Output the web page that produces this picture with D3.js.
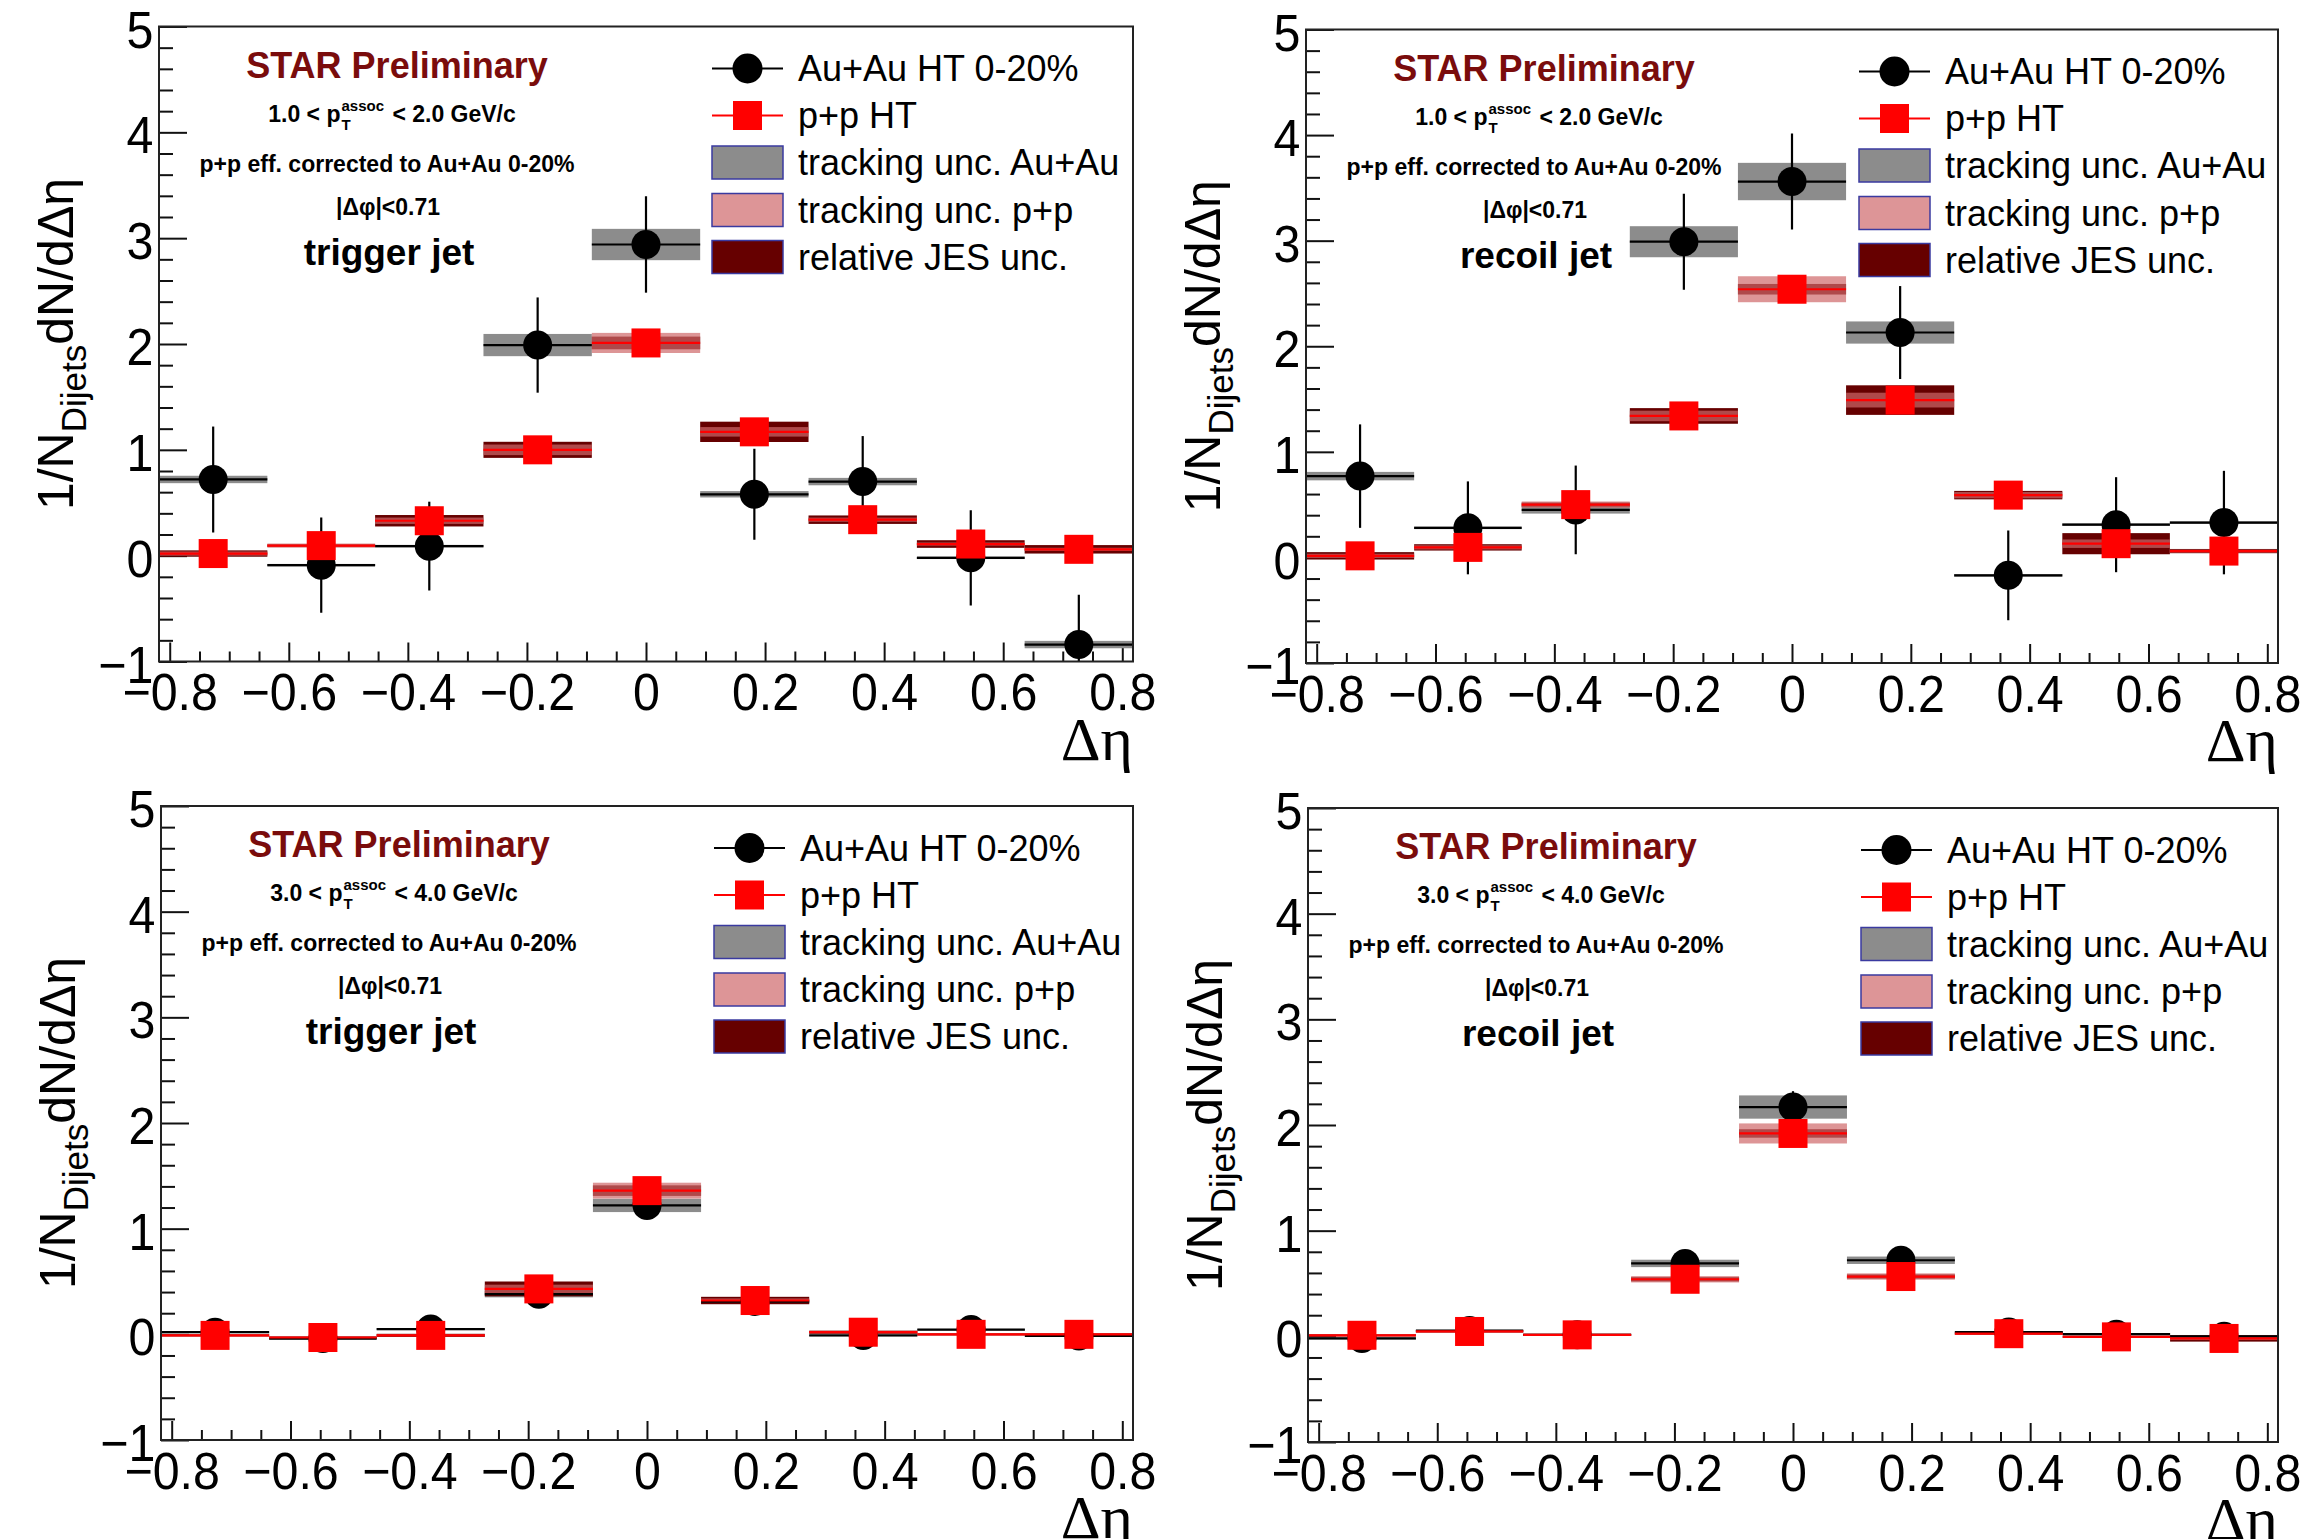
<!DOCTYPE html>
<html>
<head>
<meta charset="utf-8">
<script src="https://cdn.jsdelivr.net/npm/d3@7"></script>
<style>
  body { margin: 0; background: #fff; }
  svg { display: block; font-family: "Liberation Sans", Arial, Helvetica, sans-serif; }
</style>
</head>
<body>
<div id="container"></div>
<script>

/* DATA */
const binEdges = [-0.818, -0.636, -0.455, -0.273, -0.091, 0.091, 0.273, 0.455, 0.636, 0.818];
const xTicks = [-0.8, -0.6, -0.4, -0.2, 0, 0.2, 0.4, 0.6, 0.8];
const yTicks = [-1, 0, 1, 2, 3, 4, 5];
const legendLabels = ["Au+Au HT 0-20%", "p+p HT", "tracking unc. Au+Au", "tracking unc. p+p", "relative JES unc."];

// trigger jet, 1.0 < pT assoc < 2.0
const trigLowAuAu     = [0.72, -0.09, 0.09, 1.99, 2.94, 0.58, 0.70, -0.02, -0.84];
const trigLowAuAuStat = [0.50, 0.45, 0.42, 0.45, 0.455, 0.43, 0.43, 0.45, 0.47];
const trigLowAuAuTrk  = [0.035, 0.012, 0.012, 0.105, 0.148, 0.03, 0.035, 0.012, 0.035];
const trigLowPP       = [0.02, 0.095, 0.33, 1.00, 2.01, 1.17, 0.34, 0.11, 0.06];
const trigLowPPTrk    = [0.02, 0.02, 0.03, 0.05, 0.095, 0.045, 0.02, 0.015, 0.015];
const trigLowPPJes    = [0.03, 0.012, 0.054, 0.076, 0.06, 0.096, 0.04, 0.036, 0.04];

// recoil jet, 1.0 < pT assoc < 2.0
const recLowAuAu     = [0.77, 0.28, 0.45, 2.99, 3.56, 2.13, -0.17, 0.31, 0.33];
const recLowAuAuStat = [0.49, 0.44, 0.42, 0.455, 0.455, 0.44, 0.425, 0.45, 0.49];
const recLowAuAuTrk  = [0.04, 0.012, 0.035, 0.147, 0.177, 0.105, 0.012, 0.012, 0.012];
const recLowPP       = [0.015, 0.095, 0.50, 1.34, 2.54, 1.49, 0.59, 0.13, 0.06];
const recLowPPTrk    = [0.02, 0.02, 0.03, 0.05, 0.123, 0.07, 0.03, 0.04, 0.015];
const recLowPPJes    = [0.035, 0.03, 0.02, 0.074, 0.05, 0.14, 0.04, 0.10, 0.02];

// trigger jet, 3.0 < pT assoc < 4.0
const trigHighAuAu     = [0.02, -0.04, 0.05, 0.38, 1.22, 0.31, -0.01, 0.045, -0.015];
const trigHighAuAuStat = [0.06, 0.06, 0.06, 0.08, 0.10, 0.08, 0.06, 0.06, 0.06];
const trigHighAuAuTrk  = [0.006, 0.006, 0.01, 0.03, 0.063, 0.02, 0.006, 0.006, 0.006];
const trigHighPP       = [-0.01, -0.03, -0.01, 0.43, 1.36, 0.32, 0.02, 0.0, 0.0];
const trigHighPPTrk    = [0.01, 0.01, 0.01, 0.04, 0.075, 0.02, 0.01, 0.01, 0.01];
const trigHighPPJes    = [0.01, 0.01, 0.015, 0.07, 0.05, 0.035, 0.015, 0.01, 0.01];

// recoil jet, 3.0 < pT assoc < 4.0
const recHighAuAu     = [-0.02, 0.055, 0.015, 0.69, 2.17, 0.72, 0.04, 0.02, 0.0];
const recHighAuAuStat = [0.06, 0.06, 0.06, 0.08, 0.15, 0.08, 0.06, 0.06, 0.06];
const recHighAuAuTrk  = [0.01, 0.006, 0.006, 0.035, 0.11, 0.035, 0.01, 0.01, 0.01];
const recHighPP       = [0.01, 0.046, 0.014, 0.54, 1.92, 0.566, 0.025, -0.005, -0.02];
const recHighPPTrk    = [0.01, 0.01, 0.01, 0.03, 0.095, 0.03, 0.01, 0.01, 0.015];
const recHighPPJes    = [0.01, 0.01, 0.01, 0.02, 0.04, 0.02, 0.01, 0.01, 0.03];

/* CONSTANTS */
const width = 2301, height = 1539;
const gray = "#8c8c8c", pinkFill = "rgb(206,104,106)", jesColor = "#660000";
const fontFam = '"Liberation Sans", Arial, Helvetica, sans-serif';

const panels = [
  { frame: {L: 159, T: 26.5, R: 1133, B: 661.5}, lo: "1.0", hi: "2.0", jet: "trigger jet",
    auau: trigLowAuAu, stat: trigLowAuAuStat, trk: trigLowAuAuTrk, pp: trigLowPP, ppTrk: trigLowPPTrk, jes: trigLowPPJes },
  { frame: {L: 1306, T: 29.5, R: 2278, B: 663}, lo: "1.0", hi: "2.0", jet: "recoil jet",
    auau: recLowAuAu, stat: recLowAuAuStat, trk: recLowAuAuTrk, pp: recLowPP, ppTrk: recLowPPTrk, jes: recLowPPJes },
  { frame: {L: 161, T: 806, R: 1133, B: 1440}, lo: "3.0", hi: "4.0", jet: "trigger jet",
    auau: trigHighAuAu, stat: trigHighAuAuStat, trk: trigHighAuAuTrk, pp: trigHighPP, ppTrk: trigHighPPTrk, jes: trigHighPPJes },
  { frame: {L: 1308, T: 808, R: 2278, B: 1442}, lo: "3.0", hi: "4.0", jet: "recoil jet",
    auau: recHighAuAu, stat: recHighAuAuStat, trk: recHighAuAuTrk, pp: recHighPP, ppTrk: recHighPPTrk, jes: recHighPPJes }
];

const svg = d3.select("#container")
  .append("svg")
  .attr("width", width)
  .attr("height", height);

svg.append("rect").attr("width", width).attr("height", height).attr("fill", "#fff");

panels.forEach((p, pi) => {
  const {L, T, R, B} = p.frame;
  const g = svg.append("g");

  /* SCALES */
  const x = d3.scaleLinear().domain([binEdges[0], binEdges[binEdges.length - 1]]).range([L, R]);
  const y = d3.scaleLinear().domain([-1, 5]).range([B, T]);

  const bins = d3.range(binEdges.length - 1).map(i => ({
    x0: binEdges[i], x1: binEdges[i + 1], xc: (binEdges[i] + binEdges[i + 1]) / 2,
    auau: p.auau[i], stat: p.stat[i], trk: p.trk[i], pp: p.pp[i], ppTrk: p.ppTrk[i], jes: p.jes[i]
  }));

  const clipId = "clip" + pi;
  g.append("clipPath").attr("id", clipId)
    .append("rect").attr("x", L).attr("y", T).attr("width", R - L).attr("height", B - T);

  /* AXES */
  const minorY = d3.range(-1, 5.001, 0.2).filter(v => Math.abs(v - Math.round(v)) > 0.01);
  const minorX = d3.range(-0.8, 0.801, 0.05).filter(v => Math.abs(v * 5 - Math.round(v * 5)) > 0.01);

  g.append("g").attr("transform", `translate(${L},0)`)
    .call(d3.axisLeft(y).tickValues(minorY).tickSizeInner(-14).tickSizeOuter(0).tickFormat(""))
    .call(a => { a.select(".domain").remove(); a.selectAll("line").attr("stroke", "#111").attr("stroke-width", 2); });

  g.append("g").attr("transform", `translate(${L},0)`)
    .call(d3.axisLeft(y).tickValues(yTicks).tickSizeInner(-28).tickSizeOuter(0).tickPadding(6).tickFormat(d3.format("d")))
    .call(a => {
      a.select(".domain").remove();
      a.selectAll("line").attr("stroke", "#111").attr("stroke-width", 2);
      a.selectAll("text").attr("font-size", 52).attr("font-family", fontFam).attr("fill", "#000")
        .attr("y", 4).attr("transform", "scale(0.93,1)");
    });

  g.append("g").attr("transform", `translate(0,${B})`)
    .call(d3.axisBottom(x).tickValues(minorX).tickSizeInner(-10).tickSizeOuter(0).tickFormat(""))
    .call(a => { a.select(".domain").remove(); a.selectAll("line").attr("stroke", "#111").attr("stroke-width", 2); });

  g.append("g").attr("transform", `translate(0,${B})`)
    .call(d3.axisBottom(x).tickValues(xTicks).tickSizeInner(-19).tickSizeOuter(0).tickPadding(12)
      .tickFormat(d => d === 0 ? "0" : d3.format(".1f")(d)))
    .call(a => {
      a.select(".domain").remove();
      a.selectAll("line").attr("stroke", "#111").attr("stroke-width", 2);
      a.selectAll("text").attr("font-size", 52).attr("font-family", fontFam).attr("fill", "#000")
        .attr("transform", "scale(0.93,1)");
    });

  /* MARKS */
  const marks = g.append("g").attr("clip-path", `url(#${clipId})`);

  // Au+Au tracking uncertainty
  marks.selectAll(".trk").data(bins).join("rect")
    .attr("x", d => x(d.x0)).attr("width", d => x(d.x1) - x(d.x0))
    .attr("y", d => y(d.auau + d.trk)).attr("height", d => Math.max(1.5, y(d.auau - d.trk) - y(d.auau + d.trk)))
    .attr("fill", gray);

  // p+p JES uncertainty
  marks.selectAll(".jes").data(bins).join("rect")
    .attr("x", d => x(d.x0)).attr("width", d => x(d.x1) - x(d.x0))
    .attr("y", d => y(d.pp + d.jes)).attr("height", d => y(d.pp - d.jes) - y(d.pp + d.jes))
    .attr("fill", jesColor);

  // p+p tracking uncertainty
  marks.selectAll(".pptrk").data(bins).join("rect")
    .attr("x", d => x(d.x0)).attr("width", d => x(d.x1) - x(d.x0))
    .attr("y", d => y(d.pp + d.ppTrk)).attr("height", d => y(d.pp - d.ppTrk) - y(d.pp + d.ppTrk))
    .attr("fill", pinkFill).attr("fill-opacity", 0.7);

  // Au+Au error bars
  marks.selectAll(".hbar").data(bins).join("line")
    .attr("x1", d => x(d.x0)).attr("x2", d => x(d.x1))
    .attr("y1", d => y(d.auau)).attr("y2", d => y(d.auau))
    .attr("stroke", "#000").attr("stroke-width", 2.2);
  marks.selectAll(".vbar").data(bins).join("line")
    .attr("x1", d => x(d.xc)).attr("x2", d => x(d.xc))
    .attr("y1", d => y(d.auau - d.stat)).attr("y2", d => y(d.auau + d.stat))
    .attr("stroke", "#000").attr("stroke-width", 2.2);

  // p+p horizontal bars
  marks.selectAll(".pphbar").data(bins).join("line")
    .attr("x1", d => x(d.x0)).attr("x2", d => x(d.x1))
    .attr("y1", d => y(d.pp)).attr("y2", d => y(d.pp))
    .attr("stroke", "#ff0000").attr("stroke-width", 2.2);

  // markers
  marks.selectAll(".dot").data(bins).join("circle")
    .attr("cx", d => x(d.xc)).attr("cy", d => y(d.auau)).attr("r", 14.5).attr("fill", "#000");
  marks.selectAll(".sq").data(bins).join("rect")
    .attr("x", d => x(d.xc) - 14.5).attr("y", d => y(d.pp) - 14.5)
    .attr("width", 29).attr("height", 29).attr("fill", "#ff0000");

  // frame
  g.append("rect").attr("x", L).attr("y", T).attr("width", R - L).attr("height", B - T)
    .attr("fill", "none").attr("stroke", "#222").attr("stroke-width", 2);

  /* AXIS TITLES */
  const yt = g.append("text")
    .attr("transform", `translate(${L - 86},${(T + B) / 2}) rotate(-90)`)
    .attr("text-anchor", "middle").attr("font-size", 50).attr("fill", "#000");
  yt.append("tspan").text("1/N");
  yt.append("tspan").attr("font-size", 35).attr("dy", 13).text("Dijets");
  yt.append("tspan").attr("dy", -13).text("dN/d\u0394\u03b7");

  g.append("text")
    .attr("x", R).attr("y", B + 98)
    .attr("text-anchor", "end")
    .attr("font-family", '"Liberation Serif", "DejaVu Serif", serif')
    .attr("font-size", 62).attr("fill", "#000")
    .text("\u0394\u03b7");

  /* ANNOTATIONS */
  g.append("text").attr("x", L + 238).attr("y", T + 51)
    .attr("text-anchor", "middle").attr("font-weight", "bold").attr("font-size", 36)
    .attr("fill", "#7a0c0c").text("STAR Preliminary");

  const pt = g.append("g").attr("font-weight", "bold").attr("fill", "#000");
  const t1 = pt.append("text").attr("font-size", 23).text(`${p.lo} < p`);
  const w1 = t1.node().getComputedTextLength();
  const sup = pt.append("text").attr("x", w1 + 1).attr("y", -11).attr("font-size", 15).text("assoc");
  pt.append("text").attr("x", w1 + 1).attr("y", 8).attr("font-size", 15).text("T");
  const ws = sup.node().getComputedTextLength();
  const t2 = pt.append("text").attr("x", w1 + ws + 3).attr("font-size", 23).attr("xml:space", "preserve").text(` < ${p.hi} GeV/c`);
  const wt = w1 + ws + 3 + t2.node().getComputedTextLength();
  pt.attr("transform", `translate(${L + 233 - wt / 2},${T + 95})`);

  g.append("text").attr("x", L + 228).attr("y", T + 145)
    .attr("text-anchor", "middle").attr("font-weight", "bold").attr("font-size", 23)
    .attr("fill", "#000").text("p+p eff. corrected to Au+Au 0-20%");

  g.append("text").attr("x", L + 229).attr("y", T + 188)
    .attr("text-anchor", "middle").attr("font-weight", "bold").attr("font-size", 23)
    .attr("fill", "#000").text("|\u0394\u03c6|<0.71");

  g.append("text").attr("x", L + 230).attr("y", T + 238)
    .attr("text-anchor", "middle").attr("font-weight", "bold").attr("font-size", 37)
    .attr("fill", "#000").text(p.jet);

  /* LEGEND */
  const rows = [42, 89, 136, 183.5, 230.5];
  const lx0 = L + 553, lx1 = L + 624, lxc = L + 588.5;
  const leg = g.append("g");
  leg.selectAll("text").data(legendLabels).join("text")
    .attr("x", L + 639).attr("y", (d, i) => T + rows[i] + 12.5)
    .attr("font-size", 36).attr("fill", "#000").text(d => d);

  leg.append("line").attr("x1", lx0).attr("x2", lx1).attr("y1", T + rows[0]).attr("y2", T + rows[0])
    .attr("stroke", "#000").attr("stroke-width", 2);
  leg.append("circle").attr("cx", lxc).attr("cy", T + rows[0]).attr("r", 15).attr("fill", "#000");
  leg.append("line").attr("x1", lx0).attr("x2", lx1).attr("y1", T + rows[1]).attr("y2", T + rows[1])
    .attr("stroke", "#ff0000").attr("stroke-width", 2);
  leg.append("rect").attr("x", lxc - 14.5).attr("y", T + rows[1] - 14.5).attr("width", 29).attr("height", 29).attr("fill", "#ff0000");

  [gray, "#dd9597", jesColor].forEach((c, i) => {
    leg.append("rect").attr("x", lx0).attr("y", T + rows[i + 2] - 16.5)
      .attr("width", lx1 - lx0).attr("height", 33)
      .attr("fill", c).attr("stroke", "#3a3aa0").attr("stroke-width", 1.5);
  });
});

</script>
</body>
</html>
